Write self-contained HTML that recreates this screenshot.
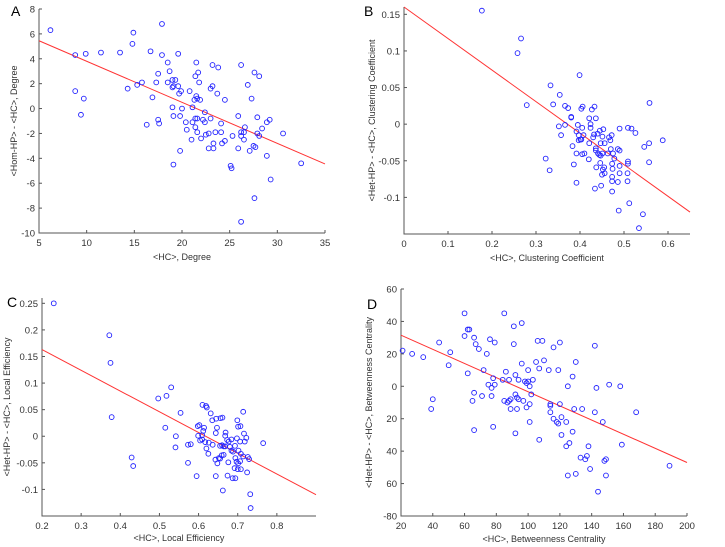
<!DOCTYPE html>
<html><head><meta charset="utf-8"><style>
html,body{margin:0;padding:0;background:#fff;}
svg{display:block;font-family:"Liberation Sans",Arial,sans-serif;}
.tick{font-size:9.5px;fill:#333;}
.lab{font-size:9px;fill:#333;}
.pl{font-size:14px;fill:#000;}
</style></head><body>
<svg id="fig" width="725" height="547" viewBox="0 0 725 547"></svg>
<script>
const NS="http://www.w3.org/2000/svg";
const fig=document.getElementById('fig');
// Panel A data
const aX=[6.2,8.8,9.9,11.5,13.5,14.9,14.8,16.7,17.9,17.9,19.6,8.8,9.7,9.4,14.3,15.3,15.8,16.9,16.3,17.3,17.5,17.5,17.6,18.5,18.5,18.7,19.0,19.1,19.0,19.3,19.6,19.7,19.9,19.0,19.1,20.0,19.8,20.4,20.5,20.8,21.1,21.0,21.1,21.3,21.5,21.4,21.7,21.8,21.5,21.6,21.9,21.4,21.6,21.4,21.6,22.0,22.2,22.4,22.4,22.5,22.8,22.8,23.0,23.0,23.2,23.2,23.3,23.3,23.5,23.7,23.8,24.1,24.1,24.2,24.5,24.5,25.1,25.2,25.3,25.9,25.9,26.2,26.2,26.2,26.6,26.5,26.5,26.2,26.9,27.1,27.3,27.6,28.1,27.5,27.7,27.9,27.9,28.1,28.4,28.9,29.2,28.9,29.3,27.6,30.6,32.5,19.1,19.8];
const aY=[6.3,4.3,4.4,4.5,4.5,6.1,5.2,4.6,6.8,4.3,4.4,1.4,0.8,-0.5,1.6,1.9,2.1,0.9,-1.3,2.1,2.8,-0.9,-1.2,3.7,2.1,3.0,2.3,1.8,1.7,2.3,1.8,1.2,1.4,0.1,-0.6,0.0,-0.6,-1.1,-1.7,1.4,0.1,-2.5,-1.1,0.7,3.7,2.6,2.9,2.1,1.0,0.8,0.7,-0.8,-0.8,-1.5,-1.9,-2.4,-0.9,-0.3,-1.1,-2.1,-2.0,-3.2,-0.8,1.6,1.8,3.5,-2.8,-3.2,-1.9,1.2,3.3,-1.2,-1.9,-2.8,-2.6,0.7,-4.6,-4.8,-2.2,-3.2,-0.6,3.5,-1.9,-2.2,-1.5,-1.9,-2.5,-9.1,1.9,-3.4,0.8,2.9,2.6,-3.0,-3.1,-0.7,-2.0,-2.2,-1.6,-1.1,-0.9,-3.8,-5.7,-7.2,-2.0,-4.4,-4.5,-3.4];
const aFit=[5.45,-4.45];
// Panel B data
const bX=[0.177,0.266,0.258,0.279,0.399,0.333,0.354,0.339,0.366,0.373,0.380,0.380,0.403,0.406,0.427,0.433,0.421,0.436,0.424,0.424,0.352,0.366,0.357,0.395,0.405,0.392,0.397,0.408,0.397,0.403,0.401,0.383,0.392,0.410,0.405,0.421,0.430,0.432,0.440,0.445,0.453,0.451,0.447,0.456,0.466,0.469,0.472,0.436,0.436,0.441,0.444,0.447,0.451,0.463,0.470,0.475,0.478,0.486,0.490,0.490,0.509,0.517,0.526,0.558,0.557,0.546,0.588,0.557,0.509,0.509,0.490,0.473,0.474,0.455,0.452,0.446,0.437,0.450,0.456,0.473,0.473,0.490,0.508,0.486,0.508,0.448,0.434,0.473,0.392,0.386,0.420,0.322,0.331,0.512,0.488,0.543,0.534];
const bY=[0.155,0.117,0.097,0.026,0.067,0.053,0.040,0.027,0.025,0.022,0.010,0.009,0.021,0.024,0.020,0.024,0.008,0.008,0.000,-0.005,-0.003,-0.001,-0.015,-0.001,-0.005,-0.010,-0.015,-0.015,-0.022,-0.021,-0.021,-0.030,-0.040,-0.040,-0.041,-0.026,-0.018,-0.014,-0.013,-0.009,-0.007,-0.017,-0.026,-0.026,-0.018,-0.022,-0.015,-0.033,-0.036,-0.040,-0.042,-0.043,-0.040,-0.040,-0.034,-0.040,-0.047,-0.034,-0.036,-0.006,-0.005,-0.006,-0.012,0.029,-0.026,-0.031,-0.022,-0.052,-0.051,-0.054,-0.057,-0.054,-0.061,-0.059,-0.062,-0.053,-0.059,-0.069,-0.067,-0.072,-0.078,-0.067,-0.067,-0.079,-0.078,-0.084,-0.088,-0.092,-0.080,-0.055,-0.048,-0.047,-0.063,-0.108,-0.118,-0.123,-0.142];
const bFit=[0.16,-0.12];
// Panel C data
const cX=[0.23,0.372,0.375,0.378,0.429,0.433,0.497,0.518,0.530,0.515,0.542,0.541,0.554,0.573,0.580,0.573,0.595,0.610,0.619,0.621,0.631,0.635,0.645,0.656,0.661,0.598,0.602,0.614,0.612,0.599,0.604,0.609,0.609,0.617,0.626,0.620,0.625,0.636,0.644,0.647,0.643,0.648,0.655,0.659,0.664,0.655,0.660,0.664,0.668,0.668,0.669,0.673,0.677,0.680,0.684,0.684,0.688,0.693,0.698,0.699,0.701,0.707,0.714,0.716,0.718,0.702,0.706,0.708,0.714,0.722,0.726,0.729,0.694,0.697,0.701,0.706,0.676,0.674,0.692,0.700,0.708,0.687,0.694,0.724,0.662,0.644,0.732,0.733,0.765,0.652];
const cY=[0.25,0.19,0.138,0.036,-0.040,-0.056,0.071,0.076,0.092,0.016,0.000,-0.021,0.044,-0.016,-0.015,-0.050,-0.075,0.059,0.057,0.054,0.043,0.030,0.033,0.034,0.035,0.019,0.021,0.016,0.010,0.001,-0.008,-0.006,0.002,-0.011,-0.012,-0.023,-0.033,-0.016,0.006,0.016,-0.044,-0.051,-0.042,-0.036,-0.035,-0.018,-0.017,-0.019,-0.019,0.001,0.007,-0.007,-0.010,-0.020,-0.027,-0.006,-0.029,-0.018,-0.004,0.030,0.018,0.019,0.046,0.005,-0.010,-0.027,-0.010,-0.033,-0.038,-0.003,-0.039,-0.043,-0.041,-0.048,-0.051,-0.047,-0.049,-0.074,-0.060,-0.062,-0.062,-0.079,-0.079,-0.068,-0.102,-0.075,-0.109,-0.135,-0.013,-0.041];
const cFit=[0.163,-0.11];
// Panel D data
const dX=[21,27,34,44,50,51,39,40,60,60,62,63,66,67,69,62,66,65,66,71,72,74,75,76,77,77,78,79,79,78,84,85,85,86,88,87,88,89,89,91,91,92,92,93,92,93,94,94,96,96,97,98,99,99,100,100,101,101,102,103,101,105,106,107,107,109,110,113,114,114,114,116,116,118,119,120,120,121,119,121,124,125,124,126,125,128,128,129,130,130,133,134,136,137,138,139,142,142,143,144,147,148,149,149,151,158,159,168,189];
const dY=[22,20,18,27,13,21,-14,-8,45,31,35,35,30,26,23,8,-4,-9,-27,-6,10,20,1,29,-1,-6,5,1,27,-25,4,45,-9,9,4,-10,-9,-8,-14,37,26,7,-5,-7,-29,-14,4,-8,39,14,-9,3,2,-13,10,3,0,-11,-5,4,-22,15,28,11,-33,28,16,10,-11,-12,-16,24,-20,-22,10,27,-11,-19,-23,-30,-22,0,-37,-35,-55,6,-28,-14,15,-54,-44,-14,-45,-43,-37,-51,25,-16,-1,-65,-22,-46,-45,-55,1,0,-36,-16,-49];
const dFit=[31.5,-47];
// Tick labels
const aXT=[5,10,15,20,25,30,35], aYT=[8,6,4,2,0,-2,-4,-6,-8,-10];
const bXT=[0,0.1,0.2,0.3,0.4,0.5,0.6], bYT=[0.15,0.1,0.05,0,-0.05,-0.1];
const bYL=['0.15','0.1','0.05','0','-0.05','-0.1'];
const cXT=[0.2,0.3,0.4,0.5,0.6,0.7,0.8], cYT=[0.25,0.2,0.15,0.1,0.05,0,-0.05,-0.1];
const cYL=['0.25','0.2','0.15','0.1','0.05','0','-0.05','-0.1'];
const dXT=[20,40,60,80,100,120,140,160,180,200], dYT=[60,40,20,0,-20,-40,-60,-80];
const dYL=['60','40','20','0','20','40','60','-80'];

function mk(tag,attrs,parent){const e=document.createElementNS(NS,tag);for(const k in attrs)e.setAttribute(k,attrs[k]);(parent||fig).appendChild(e);return e;}
function panel(o){
  const g=mk('g',{});
  
  
  const sx=v=>o.px[0]+(v-o.xd[0])/(o.xd[1]-o.xd[0])*(o.px[1]-o.px[0]);
  const sy=v=>o.py[0]+(v-o.yd[0])/(o.yd[1]-o.yd[0])*(o.py[1]-o.py[0]);
  // axes
  const ax=mk('path',{d:`M${o.px[0]} ${o.py[1]} V${o.py[0]} H${o.px[1]}`,stroke:'#555',fill:'none','stroke-width':1},g);
  
  
  o.xt.forEach((v,i)=>{const x=sx(v);
    mk('line',{x1:x,x2:x,y1:o.py[0],y2:o.py[0]-3,stroke:'#555'},g);
    const t=mk('text',{x:x,y:o.py[0]+13,'text-anchor':'middle',class:'tick'},g);
    t.textContent=o.xl?o.xl[i]:String(v);
    
    });
  o.yt.forEach((v,i)=>{const y=sy(v);
    mk('line',{x1:o.px[0],x2:o.px[0]+3,y1:y,y2:y,stroke:'#555'},g);
    const t=mk('text',{x:o.px[0]-4,y:y+3.5,'text-anchor':'end',class:'tick'},g);
    t.textContent=o.yl?o.yl[i]:String(v);
    
    });
  // fit line
  const fl=mk('line',{x1:sx(o.xd[0]),y1:sy(o.fit[0]),x2:sx(o.xd[1]),y2:sy(o.fit[1]),stroke:'#f33','stroke-width':1},g);
  
  
  o.x.forEach((v,i)=>{const c=mk('circle',{cx:sx(v),cy:sy(o.y[i]),r:2.4,fill:'none',stroke:'#22f','stroke-width':0.9},g);
    
    });
  const xt=mk('text',{x:(o.px[0]+o.px[1])/2,y:o.xlabY,'text-anchor':'middle',class:'lab'},g);
  xt.textContent=o.xlab;
  
  
  const yt=mk('text',{x:0,y:0,'text-anchor':'middle',class:'lab',transform:`translate(${o.ylabX},${(o.py[0]+o.py[1])/2}) rotate(-90)`},g);
  yt.textContent=o.ylab;
  
  
  const pl=mk('text',{x:o.lp[0],y:o.lp[1],class:'pl'},g);
  pl.textContent=o.id;
  
  
}
panel({id:'A',x:aX,y:aY,fit:aFit,xd:[5,35],yd:[-10,8],px:[39,325],py:[233,9],xt:aXT,yt:aYT,xlab:'<HC>, Degree',xlabY:260,ylab:'<Hom-HP> - <HC>, Degree',ylabX:17,lp:[11,16]});
panel({id:'B',x:bX,y:bY,fit:bFit,xd:[0,0.65],yd:[-0.15,0.16],px:[404,690],py:[234,7],xt:bXT,yt:bYT,yl:bYL,xlab:'<HC>, Clustering Coefficient',xlabY:261,ylab:'<Het-HP> - <HC>, Clustering Coefficient',ylabX:375,lp:[364,16]});
panel({id:'C',x:cX,y:cX.map((_,i)=>cY[i]),fit:cFit,xd:[0.2,0.9],yd:[-0.15,0.26],px:[42,316],py:[516,298],xt:cXT,yt:cYT,yl:cYL,xlab:'<HC>, Local Efficiency',xlabY:541,ylab:'<Het-HP> - <HC>, Local Efficiency',ylabX:10,lp:[7,307]});
panel({id:'D',x:dX,y:dY,fit:dFit,xd:[20,200],yd:[-80,60],px:[401,687],py:[516,289],xt:dXT,yt:dYT,yl:dYL,xlab:'<HC>, Betweenness Centrality',xlabY:542,ylab:'<Het-HP> - <HC>, Betweenness Centrality',ylabX:372,lp:[367,309]});
</script>
</body></html>
